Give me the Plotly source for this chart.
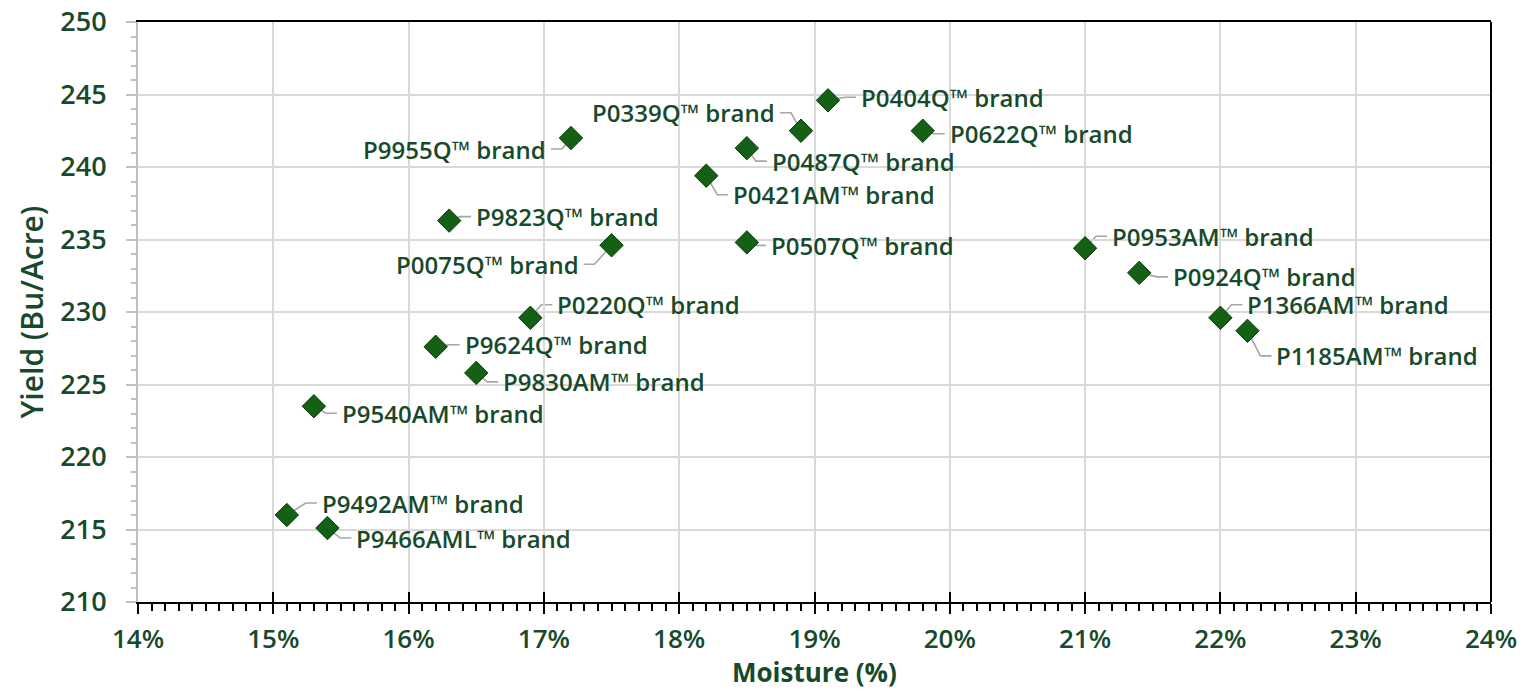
import plotly.graph_objects as go

# ---- data ----
names = ["P9492AM™ brand", "P9466AML™ brand", "P9540AM™ brand", "P9624Q™ brand",
         "P9830AM™ brand", "P0220Q™ brand", "P9823Q™ brand", "P0075Q™ brand",
         "P9955Q™ brand", "P0339Q™ brand", "P0404Q™ brand", "P0487Q™ brand",
         "P0421AM™ brand", "P0507Q™ brand", "P0622Q™ brand", "P0953AM™ brand",
         "P0924Q™ brand", "P1366AM™ brand", "P1185AM™ brand"]
moisture = [15.1, 15.4, 15.3, 16.2, 16.5, 16.9, 16.3, 17.5, 17.2, 18.9, 19.1, 18.5,
            18.2, 18.5, 19.8, 21.0, 21.4, 22.0, 22.2]
yield_bu = [216.0, 215.1, 223.5, 227.6, 225.8, 229.6, 236.3, 234.6, 242.0, 242.5, 244.6,
            241.3, 239.4, 234.8, 242.5, 234.4, 232.7, 229.6, 228.7]

# label placement (pixel offsets from marker: dx right, dy down)
label_dx = [34, 28, 27, 28, 26, 26, 26, -32, -24, -25, 32, 24, 26, 23, 26, 26, 33, 26, 28]
label_dy = [-12, 10, 7, -2, 9, -13, -4, 19, 11, -18, -3, 13, 19, 3, 3, -12, 4, -13, 25]

x_ticks = list(range(14, 25))
y_ticks = list(range(210, 251, 5))

GREEN_TXT = "#174a2b"
FONT = "Open Sans"

fig = go.Figure()

fig.add_trace(go.Scatter(
    x=moisture, y=yield_bu, mode="markers",
    marker=dict(symbol="diamond", size=18, color="#146014",
                line=dict(color="#0a3a0a", width=1)),
    hoverinfo="text", text=names, showlegend=False))

# overlay axis for upward part of major ticks on x
fig.add_trace(go.Scatter(x=[14, 24], y=[None, None], xaxis="x2", showlegend=False,
                         hoverinfo="skip", mode="markers"))

shapes = []
annotations = []
for n, x, y, dx, dy in zip(names, moisture, yield_bu, label_dx, label_dy):
    sgn = 1 if dx > 0 else -1
    ex = dx - sgn * 15
    tx = dx - sgn * 4
    path = f"M 0 0 L {ex} {-dy} L {tx} {-dy}"
    shapes.append(dict(type="path", xref="x", yref="y", xsizemode="pixel", ysizemode="pixel",
                       xanchor=x, yanchor=y, path=path, layer="below",
                       line=dict(color="#a6a6a6", width=1.6)))
    annotations.append(dict(x=x, y=y, xref="x", yref="y", text=n, showarrow=False,
                            xanchor="left" if dx > 0 else "right", yanchor="middle",
                            xshift=dx, yshift=-dy, borderpad=0,
                            font=dict(family=FONT, size=24, color=GREEN_TXT, weight=600)))

# x-axis title
annotations.append(dict(x=0.5, y=0, xref="x domain", yref="y domain", text="Moisture (%)",
                        showarrow=False, xanchor="center", yanchor="middle", yshift=-70,
                        borderpad=0,
                        font=dict(family=FONT, size=26, color=GREEN_TXT, weight=700)))

# right border
shapes.append(dict(type="line", xref="x domain", yref="y domain", x0=1, x1=1, y0=0, y1=1,
                   line=dict(color="#000000", width=2)))

fig.update_layout(
    width=1533, height=691,
    margin=dict(l=130, r=50, t=14, b=97),
    plot_bgcolor="white", paper_bgcolor="white",
    shapes=shapes, annotations=annotations,
    font=dict(family=FONT, color=GREEN_TXT),
    xaxis=dict(range=[14, 24], tickvals=x_ticks, ticktext=[f"{v}%" for v in x_ticks],
               automargin=False,
               showgrid=True, gridcolor="#d9d9d9", gridwidth=1.5,
               showline=True, linecolor="#000000", linewidth=2, mirror=True,
               ticks="outside", ticklen=10, tickwidth=2, tickcolor="#000000",
               minor=dict(dtick=0.1, ticks="outside", ticklen=7, tickwidth=2,
                          tickcolor="#000000", showgrid=False),
               ticklabelstandoff=3, ticklabeloverflow="allow",
               tickfont=dict(family=FONT, size=26, color=GREEN_TXT, weight=600),
               zeroline=False),
    xaxis2=dict(range=[14, 24], overlaying="x", side="bottom", anchor="y",
                automargin=False,
                tickvals=x_ticks, showticklabels=False, showgrid=False,
                ticks="inside", ticklen=10, tickwidth=2, tickcolor="#000000",
                showline=False, zeroline=False),
    yaxis=dict(range=[210, 250], tickvals=y_ticks, automargin=False,
               showgrid=True, gridcolor="#d9d9d9", gridwidth=1.5,
               showline=True, linecolor="#bfbfbf", linewidth=2,
               ticks="outside", ticklen=10, tickwidth=2, tickcolor="#bfbfbf",
               minor=dict(dtick=1, ticks="outside", ticklen=5, tickwidth=1.5,
                          tickcolor="#bfbfbf", showgrid=False),
               ticklabelstandoff=14, ticklabeloverflow="allow",
               tickfont=dict(family=FONT, size=27, color=GREEN_TXT, weight=600),
               title=dict(text="Yield (Bu/Acre)", standoff=8,
                          font=dict(family=FONT, size=30, color=GREEN_TXT, weight=600)),
               zeroline=False),
)

fig.write_html("out.html")
